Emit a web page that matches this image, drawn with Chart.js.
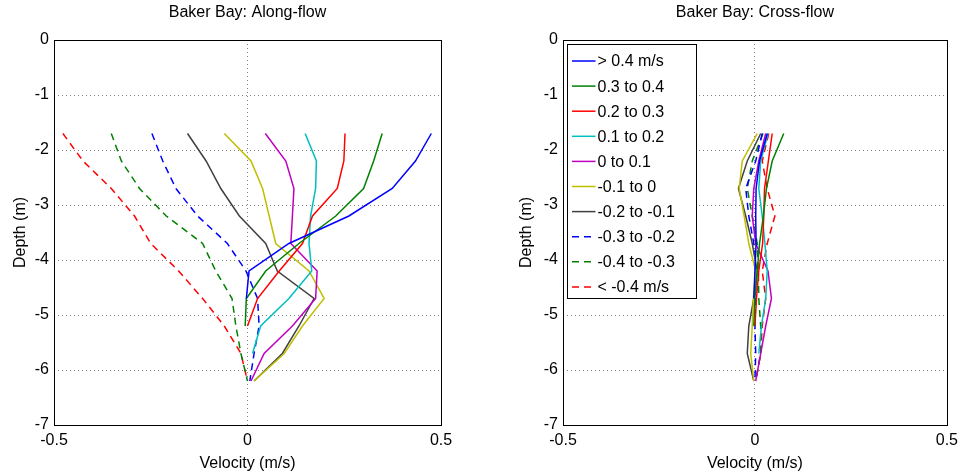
<!DOCTYPE html>
<html>
<head>
<meta charset="utf-8">
<script src="https://cdn.jsdelivr.net/npm/chart.js@4.4.1/dist/chart.umd.min.js"></script>
<style>
body { margin: 0; background: #fff; }
#wrap { position: relative; width: 964px; height: 476px; }
canvas { position: absolute; top: 0; }
</style>
</head>
<body>
<div id="wrap">
  <canvas id="along" width="482" height="476" style="left:0"></canvas>
  <canvas id="cross" width="482" height="476" style="left:482px"></canvas>
</div>
<script>
// depth bins (m), shared by every profile
const depths = [-1.7, -2.2, -2.7, -3.2, -3.7, -4.2, -4.7, -5.2, -5.7, -6.2];

const classLabels = ['> 0.4 m/s', '0.3 to 0.4', '0.2 to 0.3', '0.1 to 0.2', '0 to 0.1',
  '-0.1 to 0', '-0.2 to -0.1', '-0.3 to -0.2', '-0.4 to -0.3', '< -0.4 m/s'];

// along-flow velocity profiles (m/s)
const alongGt04  = [0.475, 0.434, 0.374, 0.262, 0.107, 0.004, -0.003];
const along0304  = [0.348, 0.326, 0.300, 0.228, 0.133, 0.047, -0.003, -0.006];
const along0203  = [0.252, 0.249, 0.232, 0.168, 0.142, 0.082, 0.026, 0.000];
const along0102  = [0.149, 0.178, 0.176, 0.163, 0.159, 0.166, 0.107, 0.034, 0.013];
const along0001  = [0.046, 0.099, 0.120, 0.116, 0.112, 0.180, 0.176, 0.116, 0.043, 0.009];
const alongM0100 = [-0.060, 0.009, 0.039, 0.056, 0.073, 0.159, 0.198, 0.142, 0.095, 0.017];
const alongM0201 = [-0.155, -0.107, -0.069, -0.021, 0.047, 0.077, 0.172, 0.133, 0.090, 0.017];
const alongM0302 = [-0.247, -0.219, -0.185, -0.129, -0.052, -0.004, 0.026, 0.030, 0.017, 0.006];
const alongM0403 = [-0.352, -0.326, -0.279, -0.210, -0.116, -0.082, -0.040, -0.030, -0.017, 0.000];
const alongLtM04 = [-0.477, -0.425, -0.352, -0.292, -0.250, -0.178, -0.116, -0.060, -0.017, 0.000];

// cross-flow velocity profiles (m/s)
const crossGt04  = [0.032, 0.012, 0.003, 0.002, 0.003, 0.000, -0.003];
const cross0304  = [0.075, 0.045, 0.030, 0.022, 0.012, 0.006, 0.000, -0.003];
const cross0203  = [0.045, 0.035, 0.025, 0.023, 0.020, 0.010, 0.004, 0.000];
const cross0102  = [0.034, 0.015, 0.010, 0.019, 0.026, 0.032, 0.028, 0.017, 0.010];
const cross0001  = [0.028, 0.010, -0.003, -0.007, 0.002, 0.034, 0.043, 0.028, 0.015, 0.002];
const crossM0100 = [0.006, -0.033, -0.041, -0.028, -0.016, 0.002, -0.004, -0.007, -0.011, -0.003];
const crossM0201 = [0.015, -0.020, -0.043, -0.024, -0.007, 0.006, -0.003, -0.016, -0.020, -0.003];
const crossM0302 = [0.019, 0.002, -0.024, -0.016, -0.003, 0.002, 0.002, 0.000, 0.002, 0.000];
const crossM0403 = [0.021, -0.007, -0.020, -0.007, 0.006, 0.009, 0.010, 0.015, 0.015, 0.002];
const crossLtM04 = [0.036, 0.019, 0.032, 0.052, 0.032, 0.019, 0.028, 0.019, 0.015, 0.002];

const alongSeries = [alongGt04, along0304, along0203, along0102, along0001,
  alongM0100, alongM0201, alongM0302, alongM0403, alongLtM04];
const crossSeries = [crossGt04, cross0304, cross0203, cross0102, cross0001,
  crossM0100, crossM0201, crossM0302, crossM0403, crossLtM04];

const lineColors = ['#0000ff', '#008000', '#ff0000', '#00bfbf', '#bf00bf',
  '#bfbf00', '#404040', '#0000ff', '#008000', '#ff0000'];
const lineDashes = [[], [], [], [], [], [], [], [7, 5], [7, 5], [7, 5]];

const FONT = "'Liberation Sans', Arial, Helvetica, sans-serif";
Chart.defaults.font.family = FONT;
Chart.defaults.font.size = 16;
Chart.defaults.color = '#000';

function makeDatasets(series) {
  return series.map((vals, i) => ({
    label: classLabels[i],
    data: vals.map((v, k) => ({ x: v, y: depths[k] })),
    showLine: true,
    borderColor: lineColors[i],
    borderWidth: 1.5,
    borderDash: lineDashes[i],
    pointRadius: 0,
    fill: false,
    tension: 0
  }));
}

const gridColor = (c) => {
  const s = c.scale;
  if (c.tick && (c.tick.value === s.min || c.tick.value === s.max)) return 'rgba(0,0,0,0)';
  return '#808080';
};

// full box around the plot area (MATLAB "box on")
const boxPlugin = {
  id: 'box',
  afterDatasetsDraw(chart) {
    const a = chart.chartArea;
    const ctx = chart.ctx;
    ctx.save();
    ctx.strokeStyle = '#000';
    ctx.lineWidth = 1;
    ctx.setLineDash([]);
    ctx.strokeRect(Math.round(a.left) + 0.5, Math.round(a.top) + 0.5,
      Math.round(a.right - a.left), Math.round(a.bottom - a.top));
    ctx.restore();
  }
};

// legend box inside the cross-flow axes
const insideLegend = {
  id: 'insideLegend',
  afterDraw(chart) {
    const a = chart.chartArea;
    const ctx = chart.ctx;
    const x0 = Math.round(a.left) + 4.5, y0 = Math.round(a.top) + 4.5;
    const w = 129, h = 254, step = 25.1;
    ctx.save();
    ctx.fillStyle = '#fff';
    ctx.fillRect(x0, y0, w, h);
    ctx.strokeStyle = '#000';
    ctx.lineWidth = 1;
    ctx.strokeRect(x0, y0, w, h);
    ctx.font = '16px ' + FONT;
    ctx.textBaseline = 'middle';
    ctx.textAlign = 'left';
    chart.data.datasets.forEach((ds, i) => {
      const y = y0 + 16.5 + i * step;
      ctx.strokeStyle = ds.borderColor;
      ctx.lineWidth = 1.5;
      ctx.setLineDash(ds.borderDash);
      ctx.beginPath();
      ctx.moveTo(x0 + 4.5, y);
      ctx.lineTo(x0 + 28, y);
      ctx.stroke();
      ctx.setLineDash([]);
      ctx.fillStyle = '#000';
      ctx.fillText(ds.label, x0 + 30, y + 1);
    });
    ctx.restore();
  }
};

function panelOptions(title, padLeft, yWidth, padRight) {
  return {
    responsive: false,
    animation: false,
    devicePixelRatio: 1,
    layout: { padding: { left: padLeft, right: padRight, top: 0, bottom: 0 } },
    plugins: {
      legend: { display: false },
      tooltip: { enabled: false },
      title: {
        display: true, text: title, color: '#000', fullSize: false,
        font: { size: 16, weight: 'normal' },
        padding: { top: 3.4, bottom: 17.4 }
      }
    },
    scales: {
      x: {
        type: 'linear', min: -0.5, max: 0.5,
        ticks: { stepSize: 0.5, padding: 6, maxRotation: 0 },
        grid: { color: gridColor, lineWidth: 1, drawTicks: false },
        border: { display: false, dash: [1, 3] },
        title: { display: true, text: 'Velocity (m/s)', padding: 3 },
        afterFit: (s) => { s.height = 51; }
      },
      y: {
        type: 'linear', min: -7, max: 0,
        ticks: { stepSize: 1, padding: 5 },
        grid: { color: gridColor, lineWidth: 1, drawTicks: false },
        border: { display: false, dash: [1, 3] },
        title: { display: true, text: 'Depth (m)', padding: 11 },
        afterFit: (s) => { s.width = yWidth; }
      }
    }
  };
}

new Chart(document.getElementById('along'), {
  type: 'scatter',
  data: { datasets: makeDatasets(alongSeries) },
  options: panelOptions('Baker Bay: Along-flow', 0, 54, 41),
  plugins: [boxPlugin]
});

new Chart(document.getElementById('cross'), {
  type: 'scatter',
  data: { datasets: makeDatasets(crossSeries) },
  options: panelOptions('Baker Bay: Cross-flow', 24, 57, 14),
  plugins: [boxPlugin, insideLegend]
});
</script>
</body>
</html>
